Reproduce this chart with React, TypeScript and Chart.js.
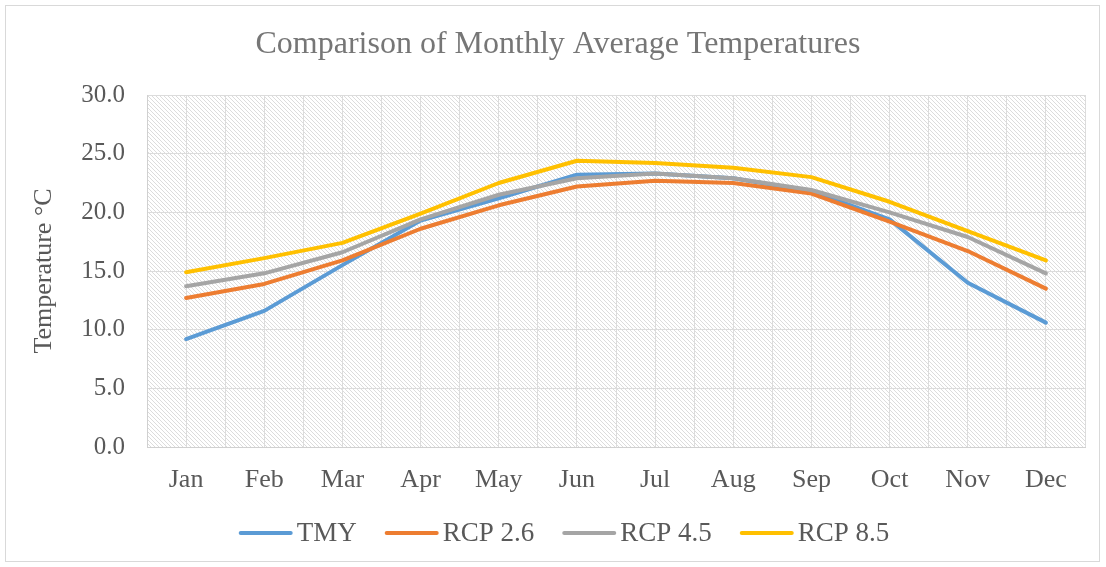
import React, { useEffect, useRef } from "react";
import { Chart, registerables } from "chart.js";

Chart.register(...registerables);

const chartTitle = "Comparison of Monthly Average Temperatures";
const yAxisTitle = "Temperature °C";
const months = ["Jan", "Feb", "Mar", "Apr", "May", "Jun", "Jul", "Aug", "Sep", "Oct", "Nov", "Dec"];
const tmy = [9.2, 11.6, 15.5, 19.3, 21.2, 23.2, 23.3, 22.9, 21.8, 19.4, 14.0, 10.6];
const rcp26 = [12.7, 13.9, 15.9, 18.6, 20.6, 22.2, 22.7, 22.5, 21.6, 19.2, 16.7, 13.5];
const rcp45 = [13.7, 14.8, 16.6, 19.4, 21.5, 22.9, 23.3, 22.9, 21.9, 20.0, 17.9, 14.8];
const rcp85 = [14.9, 16.1, 17.4, 19.9, 22.5, 24.4, 24.2, 23.8, 23.0, 20.9, 18.4, 15.9];
const seriesNames = ["TMY", "RCP 2.6", "RCP 4.5", "RCP 8.5"];
const seriesColors = ["#5B9BD5", "#ED7D31", "#A5A5A5", "#FFC000"];
const yMin = 0;
const yMax = 30;
const yStep = 5;

const FONT = "'Liberation Serif', 'Times New Roman', serif";

export default function App() {
  const ref = useRef<HTMLCanvasElement>(null);

  useEffect(() => {
    document.body.style.margin = "0";
    const canvas = ref.current;
    if (!canvas) return;

    const pc = document.createElement("canvas");
    pc.width = 4;
    pc.height = 4;
    const pctx = pc.getContext("2d")!;
    pctx.fillStyle = "#ffffff";
    pctx.fillRect(0, 0, 4, 4);
    pctx.fillStyle = "#dcdcdc";
    for (let i = 0; i < 4; i++) pctx.fillRect(i, i, 1, 1);

    const allSeries = [tmy, rcp26, rcp45, rcp85];

    const hatchPlugin = {
      id: "hatch",
      beforeDraw(chart: any) {
        const { ctx, chartArea } = chart;
        const pat = ctx.createPattern(pc, "repeat");
        ctx.save();
        ctx.fillStyle = "#ffffff";
        ctx.fillRect(0, 0, chart.width, chart.height);
        ctx.fillStyle = pat;
        ctx.fillRect(chartArea.left, chartArea.top, chartArea.right - chartArea.left, chartArea.bottom - chartArea.top);
        ctx.restore();
      },
    };

    const decorPlugin = {
      id: "decor",
      afterDraw(chart: any) {
        const { ctx } = chart;
        ctx.save();
        // outer border
        ctx.strokeStyle = "#d9d9d9";
        ctx.lineWidth = 1;
        ctx.strokeRect(5.5, 5.5, 1094, 556);
        // title
        ctx.font = `32px ${FONT}`;
        ctx.fillStyle = "#767676";
        ctx.textAlign = "center";
        ctx.textBaseline = "middle";
        ctx.fillText(chartTitle, 558, 45);
        // legend
        ctx.font = `27px ${FONT}`;
        const lineLen = 54;
        const gap = 4;
        const spacing = 28;
        const widths = seriesNames.map((n) => lineLen + gap + ctx.measureText(n).width);
        const total = widths.reduce((a, b) => a + b, 0) + spacing * (widths.length - 1);
        let x = 564 - total / 2;
        const y = 533;
        seriesNames.forEach((n, i) => {
          ctx.strokeStyle = seriesColors[i];
          ctx.lineWidth = 4;
          ctx.lineCap = "round";
          ctx.beginPath();
          ctx.moveTo(x + 2, y);
          ctx.lineTo(x + lineLen - 2, y);
          ctx.stroke();
          ctx.fillStyle = "#595959";
          ctx.textAlign = "left";
          ctx.textBaseline = "middle";
          ctx.fillText(n, x + lineLen + gap, y + 1);
          x += widths[i] + spacing;
        });
        ctx.restore();
      },
    };

    const chart = new Chart(canvas, {
      type: "line",
      data: {
        datasets: allSeries.map((vals, i) => ({
          label: seriesNames[i],
          data: vals.map((v, j) => ({ x: j, y: v })),
          borderColor: seriesColors[i],
          backgroundColor: seriesColors[i],
          borderWidth: 4,
          borderCapStyle: "round" as const,
          borderJoinStyle: "round" as const,
          pointRadius: 0,
          tension: 0,
          fill: false,
          order: allSeries.length - i,
        })),
      },
      options: {
        responsive: false,
        animation: false,
        layout: { padding: { left: 0, right: 21, top: 95, bottom: 70 } },
        plugins: {
          legend: { display: false },
          title: { display: false },
          tooltip: { enabled: false },
        },
        scales: {
          x: {
            type: "linear",
            min: -0.5,
            max: months.length - 0.5,
            afterFit: (s: any) => {
              s.height = 50;
            },
            ticks: {
              stepSize: 0.5,
              autoSkip: false,
              maxRotation: 0,
              padding: 18,
              color: "#595959",
              font: { family: FONT, size: 26 },
              callback: (v: any) => (Number.isInteger(v) ? months[v] : ""),
            },
            grid: { color: "#dcdcdc", lineWidth: 1, drawTicks: false },
            border: { color: "#d0d0d0", width: 1 },
          },
          y: {
            min: yMin,
            max: yMax,
            afterFit: (s: any) => {
              s.width = 147;
            },
            ticks: {
              stepSize: yStep,
              padding: 22,
              color: "#595959",
              font: { family: FONT, size: 25 },
              callback: (v: any) => Number(v).toFixed(1),
            },
            grid: { color: "#dcdcdc", lineWidth: 1, drawTicks: false },
            border: { color: "#d0d0d0", width: 1 },
            title: {
              display: true,
              text: yAxisTitle,
              color: "#595959",
              font: { family: FONT, size: 26 },
              padding: { top: 29, bottom: 0 },
            },
          },
        },
      },
      plugins: [hatchPlugin, decorPlugin],
    });

    return () => chart.destroy();
  }, []);

  return (
    <div style={{ width: 1106, height: 567 }}>
      <canvas ref={ref} width={1106} height={567} style={{ display: "block" }} />
    </div>
  );
}
